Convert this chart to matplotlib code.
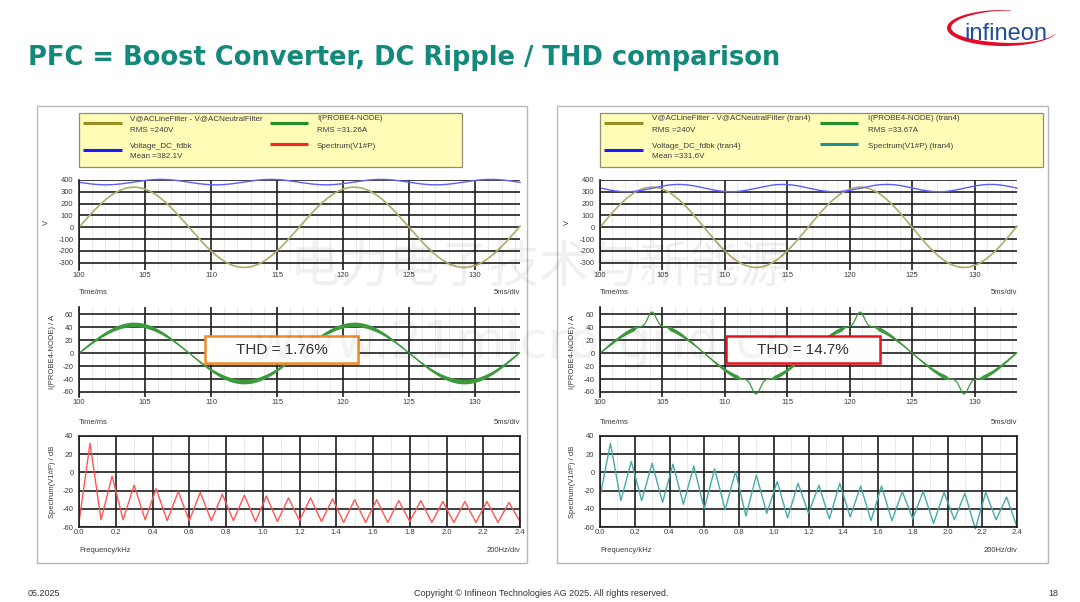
import numpy as np
import matplotlib
matplotlib.use("Agg")
import matplotlib.pyplot as plt
from matplotlib.patches import Rectangle
from matplotlib.ticker import MultipleLocator, FormatStrFormatter

W, H = 1080, 602
FONT = ["Liberation Sans", "DejaVu Sans"]
plt.rcParams["font.family"] = FONT
plt.rcParams["axes.unicode_minus"] = False

# ---- values ----
TITLE = "PFC = Boost Converter, DC Ripple / THD comparison"
THD_TEXT = ["THD = 1.76%", "THD = 14.7%"]

LINE_HZ = 60.0                   # zero crossings at 100, 108.3, 116.7 ... ms
V_AC_RMS = 240.0                 # legend "RMS =240V"
T_RANGE = (100.0, 133.4)         # ms
TIME_TICKS = [100, 105, 110, 115, 120, 125, 130]
V_TICKS = [-300, -200, -100, 0, 100, 200, 300, 400]
I_TICKS = [-60, -40, -20, 0, 20, 40, 60]
DB_TICKS = [-60, -40, -20, 0, 20, 40]

# DC link voltage (left, right): mean, ripple amplitude, time of first maximum
DC_MEAN = [382.1, 331.6]
DC_RIPPLE = [23.0, 31.0]
DC_PEAK_MS = [106.2, 106.3]

# inductor current (left, right)
I_PEAK = [44.0, 44.0]
I_CLIP = [None, 40.0]            # right: flat at +-40 A before the spike
I_SPIKE = [0.0, 23.0]            # right: spikes reach about +-63 A
I_SPIKE_WIDTH = 0.33             # ms
I_BAND = [3.0, 3.4]              # switching ripple half width at the crest

# spectrum, sampled at 0, 60, 120 ... 2400 Hz
SPEC_F = np.round(np.arange(0, 41) * 0.06, 2)
SPEC_L = [-55, 32, -52, -4, -52, -14, -52, -18, -53, -21, -53, -22, -53, -24,
          -53, -25, -54, -26, -54, -28, -53, -28, -54, -29, -55, -30, -55, -30,
          -55, -31, -54, -31, -55, -32, -55, -32, -55, -32, -55, -33, -54]
SPEC_R = [-27, 32, -31, 12, -31, 10, -33, 9, -35, 7, -40, 4, -41, 1, -48, -3,
          -45, -10, -50, -12, -45, -14, -51, -12, -49, -15, -53, -15, -53, -21,
          -51, -21, -56, -22, -52, -23, -62, -22, -52, -27, -60]
SPEC_TICKS = [0.0, 0.2, 0.4, 0.6, 0.8, 1.0, 1.2, 1.4, 1.6, 1.8, 2.0, 2.2, 2.4]

LEGENDS = [
    [("V@ACLineFilter - V@ACNeutralFilter", "RMS =240V"),
     ("I(PROBE4-NODE)", "RMS =31.26A"),
     ("Voltage_DC_fdbk", "Mean =382.1V"),
     ("Spectrum(V1#P)", "")],
    [("V@ACLineFilter - V@ACNeutralFilter (tran4)", "RMS =240V"),
     ("I(PROBE4-NODE) (tran4)", "RMS =33.67A"),
     ("Voltage_DC_fdbk (tran4)", "Mean =331.6V"),
     ("Spectrum(V1#P) (tran4)", "")],
]

# ---- styling ----
OLIVE, OLIVE_LEG = "#b0ab6a", "#978f22"
BLUE, BLUE_LEG = "#5c5cff", "#1a1aff"
GREEN, GREEN_LEG = "#3c9a3c", "#22902a"
SPEC_COL = ["#ff5555", "#48a9a9"]
SPEC_LEG = ["#ff2222", "#1f8f8f"]
GRID = "#1e1e1e"
TXT = "#3c3c3c"
TEAL = "#13897b"

PANELS = [
    dict(box=(37, 106, 527, 563), leg=(79, 113, 462, 167), ax=(79, 520),
         lx=(83, 122, 130, 270, 308, 317), thd=(205, 336, 153, 27), thd_col="#f08a26"),
    dict(box=(557, 106, 1048, 563), leg=(600, 113, 1043, 167), ax=(600, 1017),
         lx=(604, 643, 652, 820, 858, 868), thd=(726, 336, 154, 27), thd_col="#e8141c"),
]


def px_axes(fig, x0, y0, x1, y1, **kw):
    return fig.add_axes([x0 / W, 1 - y1 / H, (x1 - x0) / W, (y1 - y0) / H], **kw)


def style(ax, minor, boxed=False):
    ax.set_axisbelow(True)
    ax.tick_params(which="both", length=0, labelsize=5.5, labelcolor=TXT, pad=1.5)
    ax.tick_params(axis="y", pad=4)
    ax.grid(True, which="major", color=GRID, lw=1.2)
    ax.xaxis.set_minor_locator(MultipleLocator(minor))
    ax.grid(True, which="minor", axis="x", color="#e6e6e6", lw=0.6)
    for side, sp in ax.spines.items():
        sp.set_color(GRID)
        sp.set_linewidth(1.2)
        if not boxed and side != "left":
            sp.set_visible(False)


def draw_panel(fig, bg, k):
    p = PANELS[k]
    x0, x1 = p["ax"]
    t = np.linspace(*T_RANGE, 3000)
    period = 1000.0 / LINE_HZ
    ph = 2 * np.pi * (t - T_RANGE[0]) / period
    s = np.sin(ph)

    # voltages
    ax = px_axes(fig, x0, 180, x1, 270)
    v_ac = V_AC_RMS * np.sqrt(2) * s
    v_dc = DC_MEAN[k] + DC_RIPPLE[k] * np.cos(4 * np.pi * (t - DC_PEAK_MS[k]) / period)
    ax.plot(t, v_ac, color=OLIVE, lw=1.2, clip_on=False)
    ax.plot(t, v_dc, color=BLUE, lw=1.0, clip_on=False)
    ax.set_xlim(*T_RANGE)
    ax.set_ylim(-361, 400)
    ax.set_xticks(TIME_TICKS)
    ax.set_yticks(V_TICKS)
    style(ax, 1)

    # current
    ax = px_axes(fig, x0, 307, x1, 397)
    i = I_PEAK[k] * s
    w = 0.5 + I_BAND[k] * np.abs(s)
    if I_CLIP[k]:
        c = I_CLIP[k]
        w = w * np.clip((c - np.abs(i)) / 2.5, 0, 1)
        i = np.clip(i, -c, c)
        d = (t - T_RANGE[0]) % (period / 2) - period / 4
        i = i + np.sign(s) * I_SPIKE[k] * np.exp(-0.5 * (d / I_SPIKE_WIDTH) ** 2)
    ax.fill_between(t, i - w, i + w, color=GREEN, lw=0)
    ax.plot(t, i, color=GREEN, lw=0.9)
    ax.set_xlim(*T_RANGE)
    ax.set_ylim(-67.7, 70.8)
    ax.set_xticks(TIME_TICKS)
    ax.set_yticks(I_TICKS)
    style(ax, 1)

    # spectrum
    ax = px_axes(fig, x0, 436, x1, 527)
    ax.plot(SPEC_F, [SPEC_L, SPEC_R][k], color=SPEC_COL[k], lw=1.0, clip_on=False)
    ax.set_xlim(0, 2.4)
    ax.set_ylim(-60, 40)
    ax.set_xticks(SPEC_TICKS)
    ax.xaxis.set_major_formatter(FormatStrFormatter("%.1f"))
    ax.set_yticks(DB_TICKS)
    style(ax, 0.1, boxed=True)

    # frame, legend box and captions on the background layer
    bx0, by0, bx1, by1 = p["box"]
    bg.add_patch(Rectangle((bx0, by0), bx1 - bx0, by1 - by0, fill=False,
                           ec="#b8b8b8", lw=1.0))
    lx0, ly0, lx1, ly1 = p["leg"]
    bg.add_patch(Rectangle((lx0, ly0), lx1 - lx0, ly1 - ly0, fc="#fefcb6",
                           ec="#8f8f78", lw=0.9))
    a0, a1, at, b0, b1, bt = p["lx"]
    entries = LEGENDS[k]
    cols = [OLIVE_LEG, GREEN_LEG, BLUE_LEG, SPEC_LEG[k]]
    spots = [(a0, a1, at, 123, 119), (b0, b1, bt, 123, 119),
             (a0, a1, at, 150, 146), (b0, b1, bt, 144, 146)]
    for (name, val), col, (s0, s1, tx, ly, ty) in zip(entries, cols, spots):
        bg.plot([s0, s1], [ly, ly], color=col, lw=2.2, solid_capstyle="butt")
        bg.text(tx, ty, name, fontsize=5.8, color=TXT, va="center")
        if val:
            bg.text(tx, ty + 11, val, fontsize=5.8, color=TXT, va="center")

    lab = dict(fontsize=5.5, color=TXT, va="center")
    bg.text(x0 - 33, 222, "V", rotation=90, ha="center", **lab)
    bg.text(x0 - 27, 352, "I(PROBE4-NODE) / A", rotation=90, ha="center", **lab)
    bg.text(x0 - 27, 482, "Spectrum(V1#P) / dB", rotation=90, ha="center", **lab)
    for y, left, right in [(293, "Time/ms", "5ms/div"), (422, "Time/ms", "5ms/div"),
                           (550, "Frequency/kHz", "200Hz/div")]:
        bg.text(x0, y, left, ha="left", **lab)
        bg.text(x1, y, right, ha="right", **lab)


fig = plt.figure(figsize=(W / 100, H / 100), dpi=100)
bg = fig.add_axes([0, 0, 1, 1], zorder=0)
bg.set_xlim(0, W)
bg.set_ylim(H, 0)
bg.axis("off")

bg.text(28, 65, TITLE, fontsize=18.5, fontweight="bold", color=TEAL, va="baseline",
        family=["DejaVu Sans"])

# logo: red swoosh + word mark
th = np.radians(np.linspace(82, 340, 200))
thick = 0.5 + 4.0 * np.sin(np.pi * (th - th[0]) / (th[-1] - th[0])) ** 1.3
cx, cy, ra, rb = 1003, 28, 56, 18
outer_x, outer_y = cx + ra * np.cos(th), cy - rb * np.sin(th)
inner_x, inner_y = cx + (ra - thick) * np.cos(th), cy - (rb - thick) * np.sin(th)
bg.fill(np.r_[outer_x, inner_x[::-1]], np.r_[outer_y, inner_y[::-1]], color="#e30a2a", lw=0)
bg.text(1006, 40, "infineon", fontsize=17, color="#1f4f9a",
        ha="center", va="baseline", family=["Liberation Sans"])

# footer
bg.text(28, 594, "05.2025", fontsize=6.5, color="#333333", va="center")
bg.text(541, 594, "Copyright \u00a9 Infineon Technologies AG 2025. All rights reserved.",
        fontsize=6.5, color="#333333", va="center", ha="center")
bg.text(1058, 594, "18", fontsize=6.5, color="#333333", va="center", ha="right")

for k in range(2):
    draw_panel(fig, bg, k)

# watermark and THD call-outs on top
top = fig.add_axes([0, 0, 1, 1], zorder=5)
top.set_xlim(0, W)
top.set_ylim(H, 0)
top.axis("off")
top.patch.set_alpha(0)
top.text(540, 268, "电力电子技术与新能源", fontsize=36, color="black", alpha=0.06,
         ha="center", va="center", family=["Noto Sans CJK SC", "DejaVu Sans"])
top.text(525, 344, "www.21micro-grid.cn", fontsize=37, color="black", alpha=0.05,
         ha="center", va="center", family=["DejaVu Sans"])
for k, p in enumerate(PANELS):
    x, y, w, h = p["thd"]
    top.add_patch(Rectangle((x + 2, y + 2), w, h, fc="#9a9a9a", alpha=0.35, lw=0))
    top.add_patch(Rectangle((x, y), w, h, fc="white", ec=p["thd_col"], lw=1.8))
    top.text(x + w / 2, y + h / 2 + 0.5, THD_TEXT[k], fontsize=11, color="#333333",
             ha="center", va="center")

fig.savefig("out.png", dpi=100)
